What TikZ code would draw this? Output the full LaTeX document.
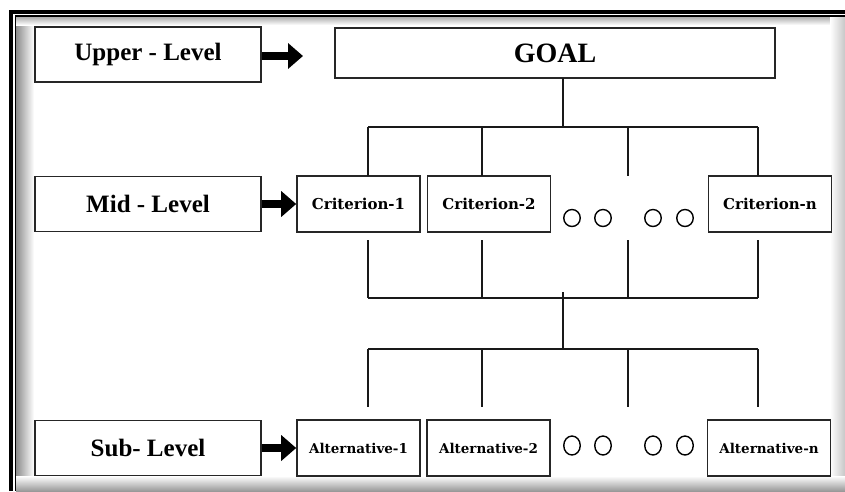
\documentclass[tikz,border=0pt]{standalone}
\usepackage{fontspec}
\setmainfont{Liberation Serif}
\newfontfamily\critfont{DejaVu Serif}
\usetikzlibrary{arrows.meta,shapes.geometric}
\begin{document}
\begin{tikzpicture}[x=1pt,y=-1pt,
  box/.style={draw=black!85,line width=1.6pt,fill=white,inner sep=0pt,font=\bfseries},
  lvl/.style={box,minimum width=226pt,minimum height=55pt,font=\bfseries\fontsize{25}{25}\selectfont},
  crit/.style={box,minimum width=123pt,minimum height=56pt,font=\critfont\bfseries\fontsize{15}{15}\selectfont},
  alt/.style={box,minimum width=123pt,minimum height=56pt,font=\critfont\bfseries\fontsize{13.5}{13.5}\selectfont},
  conn/.style={draw=black!90,line width=1.5pt},
  bigarrow/.style={draw=black,line width=8pt,-{Triangle[width=25pt,length=15pt]}},
  dot/.style={draw=black,line width=1.4pt,fill=white,ellipse,inner sep=0pt}
]
\useasboundingbox (0,0) rectangle (845,491);
% frame shading
\shade[left color=black!45,right color=white] (16,16) rectangle (34,491);
\shade[top color=black!35,bottom color=white] (16,16) rectangle (845,25);
\shade[left color=white,right color=black!22] (830,16) rectangle (845,491);
\shade[top color=white,bottom color=black!40] (16,476) rectangle (845,491);
\fill[white] (34,25) rectangle (830,476);
\draw[line width=4pt] (11,491) -- (11,11.5) -- (845,11.5);
\draw[line width=1.3pt] (15.5,491) -- (15.5,16) -- (845,16);
% level boxes
\node[lvl] (upper) at (148,54.5) {Upper - Level};
\node[lvl] (mid) at (148,204) {Mid - Level};
\node[lvl] (sub) at (148,448) {Sub- Level};
% goal
\node[box,minimum width=440pt,minimum height=50pt,font=\bfseries\fontsize{28}{28}\selectfont] (goal) at (555,53) {GOAL};
% criteria
\node[crit] (c1) at (358.5,204) {Criterion-1};
\node[crit] (c2) at (489,204) {Criterion-2};
\node[crit] (cn) at (770,204) {Criterion-n};
% alternatives
\node[alt] (a1) at (358.5,448) {Alternative-1};
\node[alt] (a2) at (488.5,448) {Alternative-2};
\node[alt] (an) at (769,448) {Alternative-n};
% dots
\foreach \i/\x in {1/572,2/603,3/653,4/685}{
  \node[dot,minimum width=16.5pt,minimum height=17pt] (md\i) at (\x,218) {};
  \node[dot,minimum width=16.5pt,minimum height=19pt] (sd\i) at (\x,445.5) {};
}
% arrows
\coordinate (uatip) at (303,56);
\draw[bigarrow] (upper.east |- uatip) -- (uatip);
\draw[bigarrow] (mid.east) -- (c1.west);
\draw[bigarrow] (sub.east) -- (a1.west);
% tree coordinates
\coordinate (gs) at (563,78);
\coordinate (h1) at (563,127);
\foreach \n/\x in {a/368,b/482,c/628,d/758}{
  \coordinate (t\n) at (\x,127);
  \coordinate (u\n) at (\x,176);
  \coordinate (l\n) at (\x,240);
  \coordinate (m\n) at (\x,298);
  \coordinate (n\n) at (\x,349);
  \coordinate (s\n) at (\x,407);
}
\coordinate (st1) at (563,292);
\coordinate (st2) at (563,349);
\draw[conn] (gs) -- (h1);
\draw[conn] (ta) -- (td);
\draw[conn] (ma) -- (md);
\draw[conn] (na) -- (nd);
\draw[conn] (st1) -- (st2);
\foreach \n in {a,b,c,d}{
  \draw[conn] (t\n) -- (u\n);
  \draw[conn] (l\n) -- (m\n);
  \draw[conn] (n\n) -- (s\n);
}
\end{tikzpicture}
\end{document}
